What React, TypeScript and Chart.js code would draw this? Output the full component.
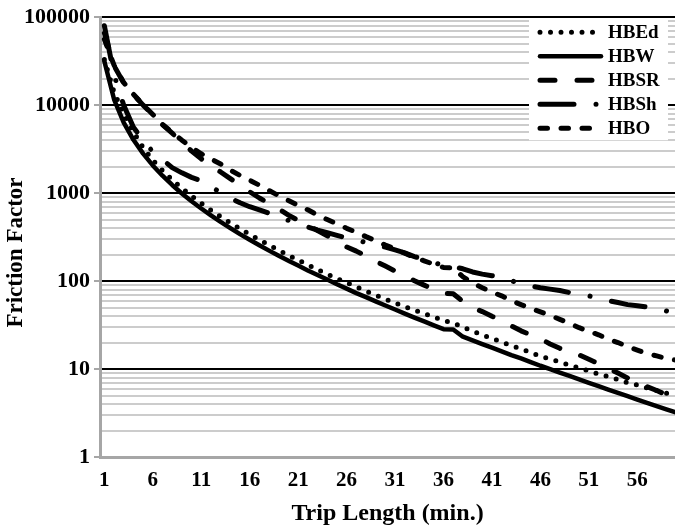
import React, { useEffect, useRef } from "react";
import { Chart, registerables } from "chart.js";

Chart.register(...registerables);

// ---- data ----
const tripLength = [
  1, 2, 3, 4, 5, 6, 7, 8, 9, 10, 11, 12, 13, 14, 15, 16, 17, 18, 19, 20,
  21, 22, 23, 24, 25, 26, 27, 28, 29, 30, 31, 32, 33, 34, 35, 36, 37, 38, 39, 40,
  41, 42, 43, 44, 45, 46, 47, 48, 49, 50, 51, 52, 53, 54, 55, 56, 57, 58, 59, 60,
];

const hbed = [
  33000, 14000, 7980, 4970, 3300, 2370, 1810, 1420, 1140, 927,
  767, 641, 541, 460, 394, 339, 294, 256, 224, 196,
  173, 153, 135, 120, 107, 96, 86, 77, 69, 62.5,
  56.5, 51.3, 46.8, 42.8, 39.1, 35.7, 33.5, 30.0, 27.0, 24.5,
  22.3, 20.3, 18.5, 16.9, 15.5, 13.9, 13.0, 12.0, 11.1, 10.3,
  9.5, 8.8, 8.2, 7.6, 7.0, 6.6, 6.1, 5.7, 5.3, 4.9,
];

const hbw = [
  31600, 11660, 6340, 4040, 2810, 2065, 1576, 1237, 991, 808,
  668, 558, 470, 400, 342, 295, 255, 222, 194, 170,
  150, 132, 117, 104, 92, 82, 73, 65.6, 58.8, 52.8,
  47.5, 42.7, 38.5, 34.8, 31.4, 28.4, 28.2, 23.3, 21.2, 19.2,
  17.5, 15.9, 14.4, 13.2, 12.0, 10.9, 10.0, 9.12, 8.34, 7.62,
  6.97, 6.38, 5.84, 5.36, 4.91, 4.5, 4.13, 3.79, 3.48, 3.2,
];

const hbsr = [
  66000, 28000, 17800, 13200, 10000, 7800, 6000, 4800, 3800, 3000,
  2450, 2040, 1740, 1460, 1230, 1035, 880, 760, 660, 562,
  490, 437, 376, 327, 285, 245, 219, 193, 168, 148,
  130, 114, 101, 90, 80, 73, 71.6, 59, 50, 45,
  39.8, 35.5, 30.9, 27.2, 24.5, 22.1, 19.3, 17.2, 15.5, 14.5,
  12.9, 11.5, 10.2, 9.0, 7.9, 7.1, 6.3, 5.7, 5.1, 4.6,
];

const hbsh = [
  80000, 22000, 10000, 5600, 4000, 2950, 2400, 1950, 1700, 1510,
  1380, 1175, 1020, 880, 776, 700, 645, 590, 537, 490,
  447, 412, 380, 355, 331, 309, 292, 275, 260, 243,
  226, 209, 190, 176, 162, 151, 146, 138, 127, 120,
  115, 110, 101, 93, 88, 84, 81, 78, 74, 71,
  68, 63, 60, 57, 54, 52.5, 50.7, 49, 45.7, 43,
];

const hbo = [
  56000, 28500, 18000, 13300, 10100, 7850, 6050, 4900, 4000, 3300,
  2800, 2450, 2140, 1820, 1590, 1400, 1230, 1070, 933, 822,
  724, 646, 562, 501, 447, 398, 359, 320, 288, 257,
  232, 207, 186, 170, 155, 143, 141, 112, 95, 84,
  75, 68, 60, 54, 49, 44.7, 40.7, 36.7, 33.1, 29.5,
  26.9, 24.5, 21.9, 20, 18, 16.4, 15, 14.1, 13.2, 12.6,
];

const seriesNames = ["HBEd", "HBW", "HBSR", "HBSh", "HBO"];
const xTickLabels = ["1", "6", "11", "16", "21", "26", "31", "36", "41", "46", "51", "56"];
const yTickValues = [1, 10, 100, 1000, 10000, 100000];
const yTickLabels = ["1", "10", "100", "1000", "10000", "100000"];
const xTitle = "Trip Length (min.)";
const yTitle = "Friction Factor";

const FONT = '"Liberation Serif", "Times New Roman", serif';

const toPoints = (vals: number[]) => vals.map((v, i) => ({ x: tripLength[i], y: v }));

const overlayPlugin = {
  id: "overlay",
  afterDraw(chart: any) {
    const ctx = chart.ctx as CanvasRenderingContext2D;
    const area = chart.chartArea;
    ctx.save();
    // legend box inside plot, top right
    const boxL = area.right - 146;
    const boxT = area.top + 2;
    ctx.fillStyle = "#ffffff";
    ctx.fillRect(boxL, boxT, 139, 121);
    chart.data.datasets.forEach((ds: any, i: number) => {
      const y = boxT + 13 + i * 24;
      ctx.save();
      ctx.strokeStyle = ds.borderColor;
      ctx.lineWidth = ds.borderWidth;
      ctx.lineCap = ds.borderCapStyle || "butt";
      ctx.setLineDash(ds.borderDash || []);
      ctx.beginPath();
      ctx.moveTo(boxL + 11, y);
      ctx.lineTo(boxL + (ds.borderDash && ds.borderDash.length ? 68 : 72), y);
      ctx.stroke();
      ctx.restore();
      ctx.fillStyle = "#000";
      ctx.font = `bold 19px ${FONT}`;
      ctx.textAlign = "left";
      ctx.textBaseline = "middle";
      ctx.fillText(ds.label, boxL + 79, y + 1);
    });
    // y axis title
    ctx.fillStyle = "#000";
    ctx.translate(16.5, 252.5);
    ctx.rotate(-Math.PI / 2);
    ctx.font = `bold 23px ${FONT}`;
    ctx.textAlign = "center";
    ctx.textBaseline = "middle";
    ctx.fillText(yTitle, 0, 0);
    ctx.restore();
  },
};

const isDecade = (v: number) => yTickValues.indexOf(v) >= 0;

export default function App() {
  const ref = useRef<HTMLCanvasElement | null>(null);

  useEffect(() => {
    document.body.style.margin = "0";
    const canvas = ref.current;
    if (!canvas) return;
    const common = {
      borderColor: "#000000",
      backgroundColor: "#000000",
      pointRadius: 0,
      pointHoverRadius: 0,
      tension: 0,
      fill: false,
      borderCapStyle: "round",
      borderJoinStyle: "round",
    };
    const seriesValues = [hbed, hbw, hbsr, hbsh, hbo];
    const styles = [
      { borderWidth: 5, borderDash: [0, 10.5] },
      { borderWidth: 4.5, borderDash: [] },
      { borderWidth: 5, borderDash: [15, 22] },
      { borderWidth: 5, borderDash: [34, 22, 0.01, 22] },
      { borderWidth: 5, borderDash: [7.5, 13.5] },
    ];
    const chart = new Chart(canvas, {
      type: "line",
      data: {
        datasets: seriesNames.map((name, i) => ({
          ...common,
          ...styles[i],
          label: name,
          data: toPoints(seriesValues[i]),
        })) as any,
      },
      plugins: [overlayPlugin],
      options: {
        responsive: false,
        animation: false,
        layout: { padding: { top: 17, left: 0, right: 0, bottom: 0 } },
        plugins: {
          legend: { display: false },
          tooltip: { enabled: false },
          title: { display: false },
        },
        scales: {
          x: {
            type: "linear",
            min: 0.55,
            max: 59.89,
            afterBuildTicks: (s: any) => {
              s.ticks = xTickLabels.map((l) => ({ value: Number(l) }));
            },
            afterFit: (s: any) => {
              s.height = 69;
            },
            ticks: {
              autoSkip: false,
              maxRotation: 0,
              padding: 11,
              color: "#000",
              font: { family: FONT, size: 21, weight: "bold" },
              callback: (v: any) => {
                const i = xTickLabels.indexOf(String(v));
                return i >= 0 ? xTickLabels[i] : "";
              },
            },
            grid: { display: false, drawTicks: false },
            border: { display: true, color: "#a6a6a6", width: 3 },
            title: {
              display: true,
              text: xTitle,
              color: "#000",
              font: { family: FONT, size: 24, weight: "bold", lineHeight: 1.05 },
              padding: { top: 0, bottom: 0 },
            },
          },
          y: {
            type: "logarithmic",
            min: 1,
            max: 100000,
            afterBuildTicks: (s: any) => {
              const t: any[] = [];
              for (let e = 0; e < 5; e++) {
                for (let m = 1; m < 10; m++) t.push({ value: m * Math.pow(10, e) });
              }
              t.push({ value: 100000 });
              s.ticks = t;
            },
            afterFit: (s: any) => {
              s.width = 100;
            },
            ticks: {
              autoSkip: false,
              padding: 4,
              color: "#000",
              font: { family: FONT, size: 22, weight: "bold" },
              callback: (v: any) => {
                const i = yTickValues.indexOf(Number(v));
                return i >= 0 ? yTickLabels[i] : "";
              },
            },
            grid: {
              drawTicks: true,
              tickLength: 6,
              lineWidth: 2,
              color: (c: any) => {
                const v = c.tick ? c.tick.value : 0;
                if (v === 1) return "rgba(0,0,0,0)";
                return isDecade(v) ? "#000000" : "#cccccc";
              },
              tickColor: (c: any) => {
                const v = c.tick ? c.tick.value : 0;
                return isDecade(v) ? "#a6a6a6" : "rgba(0,0,0,0)";
              },
              tickWidth: 2,
            },
            border: { display: true, color: "#a6a6a6", width: 3 },
          },
        },
      } as any,
    });
    return () => chart.destroy();
  }, []);

  return (
    <div style={{ width: 675, height: 526 }}>
      <canvas ref={ref} width={675} height={526} style={{ display: "block" }} />
    </div>
  );
}
